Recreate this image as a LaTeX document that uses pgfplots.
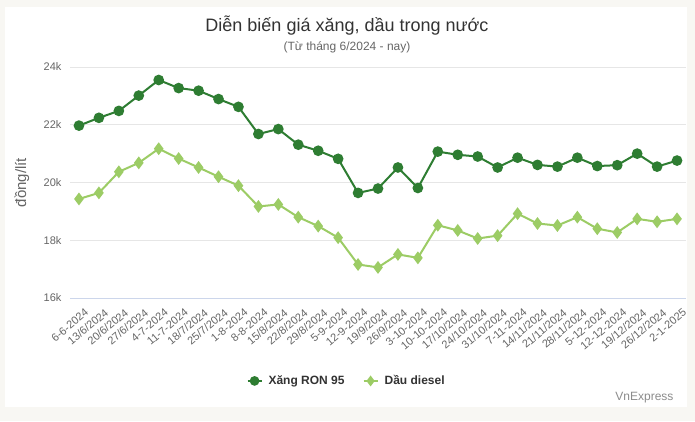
\documentclass[border=0pt]{standalone}
\usepackage{fontspec}
\setmainfont{Liberation Sans}
\usepackage{pgfplots}
\pgfplotsset{compat=1.18}
\usepackage{pgfplotstable}
\definecolor{bgcol}{HTML}{F8F7F3}
\definecolor{ron}{HTML}{2E7D32}
\definecolor{diesel}{HTML}{9CCC65}
\definecolor{gridc}{HTML}{E6E6E6}
\definecolor{axc}{HTML}{CCD6EB}
\definecolor{lab}{HTML}{666666}
\definecolor{titc}{HTML}{333333}

\pgfplotstableread{
x ron diesel
0 21.97 19.43
1 22.24 19.64
2 22.48 20.37
3 23.01 20.68
4 23.55 21.17
5 23.27 20.83
6 23.18 20.52
7 22.89 20.20
8 22.62 19.89
9 21.68 19.17
10 21.85 19.24
11 21.31 18.80
12 21.10 18.49
13 20.82 18.09
14 19.64 17.16
15 19.79 17.06
16 20.52 17.51
17 19.81 17.39
18 21.07 18.52
19 20.96 18.34
20 20.90 18.06
21 20.52 18.16
22 20.86 18.92
23 20.61 18.58
24 20.55 18.51
25 20.86 18.80
26 20.57 18.40
27 20.60 18.27
28 21.00 18.74
29 20.55 18.64
30 20.76 18.74
}\datatable

\begin{document}
\begin{tikzpicture}[x=1pt,y=1pt]
\fill[bgcol] (0,0) rectangle (695,421);
\fill[white] (5,14) rectangle (687,414);
\node[font=\fontsize{18}{22}\selectfont, text=titc] at (347,395) {Diễn biến giá xăng, dầu trong nước};
\node[font=\fontsize{12}{14}\selectfont, text=lab] at (347,374) {(Từ tháng 6/2024 - nay)};
\node[font=\fontsize{12}{14}\selectfont, text=black!45, anchor=east] at (677,23) {VnExpress};
\begin{axis}[
  at={(70pt,123pt)}, anchor=south west,
  width=616pt, height=231pt, scale only axis,
  xmin=-0.45, xmax=30.45, ymin=16, ymax=24,
  axis x line=bottom, axis y line=left,
  x axis line style={draw=axc, -},
  y axis line style={draw=none},
  major tick length=0pt,
  ymajorgrids, grid style={gridc, line width=0.8pt},
  ytick={16,18,20,22,24},
  yticklabels={16k,18k,20k,22k,24k},
  yticklabel style={font=\fontsize{11}{13}\selectfont, text=lab, xshift=-5pt},
  xtick={0,...,30},
  xticklabels={6-6-2024,13/6/2024,20/6/2024,27/6/2024,4-7-2024,11-7-2024,18/7/2024,25/7/2024,1-8-2024,8-8-2024,15/8/2024,22/8/2024,29/8/2024,5-9-2024,12-9-2024,19/9/2024,26/9/2024,3-10-2024,10-10-2024,17/10/2024,24/10/2024,31/10/2024,7-11-2024,14/11/2024,21/11/2024,28/11/2024,5-12-2024,12-12-2024,19/12/2024,26/12/2024,2-1-2025},
  xticklabel style={font=\fontsize{11}{13}\selectfont, text=lab, rotate=40, anchor=east, yshift=-15pt, xshift=1pt},
  ylabel={đồng/lít},
  ylabel style={font=\fontsize{15}{17}\selectfont, text=lab, at={(axis description cs:-0.078,0.5)}, anchor=center},
  legend style={at={(axis description cs:0.449,-0.359)}, anchor=center, draw=none, fill=none,
    font=\fontsize{12}{14}\selectfont\bfseries, text=titc, legend columns=2,
    /tikz/every even column/.append style={column sep=16pt}},
  legend image code/.code={\draw[#1] (0pt,0pt) -- (14pt,0pt); \path[#1, mark repeat=1, mark size=3.8pt] plot coordinates {(7pt,0pt)}; \path (18pt,0pt);},
]
\addplot[color=ron, line width=2pt, mark=*, mark size=4.3pt, mark options={solid, draw=none}] table[x=x, y=ron] {\datatable};
\addlegendentry{Xăng RON 95}
\addplot[color=diesel, line width=2pt, mark=diamond*, mark size=4.8pt, mark options={solid, draw=none}] table[x=x, y=diesel] {\datatable};
\addlegendentry{Dầu diesel}
\end{axis}
\end{tikzpicture}
\end{document}
